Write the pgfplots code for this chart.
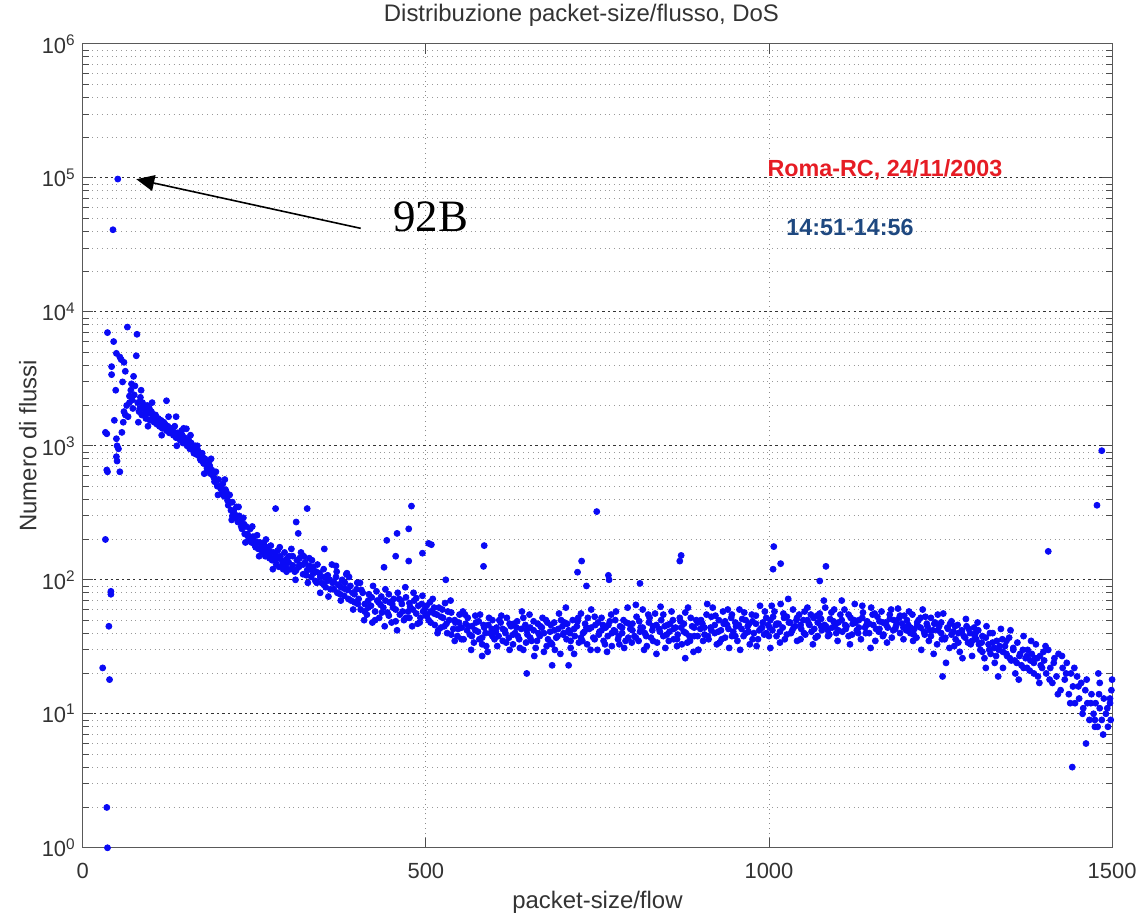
\documentclass[border=0pt]{standalone}
\usepackage{fontspec}
\setmainfont{Liberation Sans}
\newfontfamily\timesfont{Liberation Serif}
\usepackage{pgfplots}
\pgfplotsset{compat=1.18}
\usetikzlibrary{arrows.meta,calc}
\definecolor{ptblue}{RGB}{10,10,245}
\definecolor{annred}{RGB}{230,28,36}
\definecolor{annblue}{RGB}{30,72,128}
\pgfplotsset{pts/.style={only marks,mark=*,mark size=1.5pt,color=ptblue,mark options={fill=ptblue,draw=ptblue}}}

\begin{document}
\begin{tikzpicture}
\begin{axis}[
  scale only axis,
  width=516pt, height=403pt,
  xmin=0, xmax=1500, ymin=1, ymax=1e6,
  ymode=log,
  clip=false,
  axis line style={black!65},
  xtick={0,500,1000,1500},
  ytick={1,10,100,1000,10000,100000,1000000},
  yticklabels={10\textsuperscript{0},10\textsuperscript{1},10\textsuperscript{2},10\textsuperscript{3},10\textsuperscript{4},10\textsuperscript{5},10\textsuperscript{6}},
  minor ytick={2,3,4,5,6,7,8,9,20,30,40,50,60,70,80,90,200,300,400,500,600,700,800,900,2000,3000,4000,5000,6000,7000,8000,9000,20000,30000,40000,50000,60000,70000,80000,90000,200000,300000,400000,500000,600000,700000,800000,900000},
  /pgf/number format/assume math mode=true,
  /pgf/number format/1000 sep={},
  tick align=inside,
  tick pos=both,
  major tick length=5pt,
  minor tick length=3pt,
  every tick/.style={black!70},
  tick label style={font=\fontsize{11}{13}\selectfont,text=black!80},
  xticklabel style={yshift=-4pt},
  ymajorgrids, yminorgrids, xmajorgrids,
  major y grid style={dash pattern=on 1.2pt off 1.6pt,black!80,line width=0.5pt},
  minor y grid style={dotted,black!40},
  major x grid style={dotted,black!45},
  title={Distribuzione packet-size/flusso, DoS},
  title style={at={(axis description cs:0.5,1)},anchor=center,yshift=8.5pt,xshift=-8pt,font=\fontsize{12}{14}\selectfont,text=black!80},
  xlabel={packet-size/flow},
  ylabel={Numero di flussi},
  xlabel style={at={(axis description cs:0.5,0)},anchor=center,yshift=-27.5pt,font=\fontsize{12}{14}\selectfont,text=black!80},
  ylabel style={at={(axis description cs:0,0.5)},anchor=center,yshift=27.5pt,font=\fontsize{12}{14}\selectfont,text=black!80},
]
% small packet sizes, the peak and the DoS points
\addplot[pts] coordinates {
(36,1)(35,2)(29,22)(39,18)(38,45)(41,82)(41,78)(33,200)(36,640)(35,660)(35,1230)(33,1260)
(36,7000)(42,3900)(42,3400)(44,41000)(51,98000)(45,6000)(46,1550)(48,2600)(49,4900)(49,1130)
(49,830)(50,770)(50,1000)(52,950)(54,640)(54,4600)(56,4400)(57,1260)(58,3000)(59,1500)
(60,4200)(60,1800)(62,3600)(62,1700)(64,2000)(65,7700)(66,1650)(68,2100)(68,2350)(70,2600)
(71,2900)(72,2200)(73,1900)(74,3300)(75,2400)(76,2800)(78,4700)(79,6800)
};
% decay 80-300
\addplot[pts] coordinates {
(80,2100)(82,1800)(84,2300)(86,1700)(88,1950)(90,1850)(92,1600)(94,2000)(96,1750)(98,1550)
(100,1800)(102,1650)(104,1500)(106,1700)(108,1450)(110,1600)(112,1400)(114,1550)(116,1350)(118,1500)
(120,1450)(122,1300)(124,1400)(126,1250)(128,1350)(130,1300)(132,1200)(134,1400)(136,1150)(138,1250)
(140,1200)(142,1100)(144,1300)(146,1050)(148,1150)(150,1100)(152,1000)(154,1120)(156,950)(158,1050)
(160,950)(162,880)(164,1000)(166,860)(168,920)(170,850)(172,780)(174,880)(176,740)(178,800)
(180,720)(182,650)(184,760)(186,620)(188,660)(190,600)(192,540)(194,640)(196,500)(198,560)
(200,500)(202,440)(204,520)(206,420)(208,470)(210,420)(212,360)(214,430)(216,330)(218,380)
(220,330)(222,290)(224,350)(226,270)(228,300)(230,270)(232,240)(234,290)(236,220)(238,250)
(240,220)(242,195)(244,240)(246,190)(248,210)(250,195)(252,175)(254,215)(256,170)(258,190)
(260,175)(262,160)(264,190)(266,150)(268,175)(270,165)(272,145)(274,180)(276,140)(278,160)
(280,150)(282,130)(284,165)(286,125)(288,150)(290,140)(292,120)(294,160)(296,125)(298,145)(300,135)
(81,1500)(85,2600)(95,1400)(101,2100)(115,1200)(125,1650)(137,1000)(147,1350)(157,1200)(167,1000)
(177,620)(187,800)(197,430)(207,560)(217,280)(227,350)(237,190)(247,250)(257,150)(267,200)
(277,120)(287,175)(297,115)(122,2170)(136,1650)(151,1340)(112,1400)(160,950)(185,710)(209,455)
(218,300)(247,205)(282,150)(330,127)(378,98)
(83,1900)(87,2100)(91,1750)(97,1900)(103,1600)(107,1550)(113,1500)(117,1450)(121,1350)(127,1300)
(131,1350)(135,1250)(141,1150)(145,1200)(151,1050)(155,1050)(161,920)(165,950)(171,800)(175,820)
(181,680)(185,700)(191,580)(195,560)
(201,480)(205,470)(211,390)(215,380)(221,310)(225,300)(231,250)(235,260)(241,210)(245,200)
(251,180)(255,190)(261,170)(265,160)(271,150)(275,160)(281,140)(285,145)(291,130)(295,135)
};
% 300-500
\addplot[pts] coordinates {
(303,120)(306,150)(309,115)(312,140)(315,125)(318,160)(321,110)(324,135)(327,118)(330,145)
(333,105)(336,125)(339,98)(342,130)(345,112)(348,95)(351,120)(354,88)(357,108)(360,100)
(363,130)(366,85)(369,105)(372,92)(375,78)(378,100)(381,86)(384,110)(387,72)(390,90)
(393,80)(396,68)(399,85)
(304,170)(310,100)(316,130)(322,150)(328,95)(334,140)(340,115)(346,80)(352,105)(358,75)
(364,95)(370,115)(376,70)(382,95)(388,105)(394,60)(400,95)
(301,150)(306,128)(311,118)(316,145)(321,130)(326,108)(331,120)(336,112)(341,95)(346,105)
(351,92)(356,98)(361,85)(366,96)(371,80)(376,88)(381,76)(386,84)(391,70)(396,78)
(402,72)(405,60)(408,80)(411,66)(414,55)(417,78)(420,64)(423,90)(426,58)(429,70)
(432,52)(435,75)(438,62)(441,85)(444,57)(447,68)(450,48)(453,72)(456,60)(459,80)
(462,55)(465,66)(468,50)(471,74)(474,58)(477,63)(480,45)(483,70)(486,56)(489,64)
(492,52)(495,76)(498,60)
(404,95)(410,50)(416,70)(422,48)(428,82)(434,65)(440,45)(446,78)(452,62)(458,42)
(464,70)(470,88)(476,52)(482,80)(488,47)(494,66)(500,54)
(401,66)(406,84)(411,58)(416,62)(421,74)(426,50)(431,68)(436,57)(441,70)(446,54)
(451,66)(456,49)(461,72)(466,58)(471,52)(476,67)(481,60)(486,73)(491,48)(496,58)
};
% 500-800
\addplot[pts] coordinates {
(501,64)(504,50)(507,58)(510,72)(513,46)(516,55)(519,62)(522,44)(525,52)(528,67)
(531,40)(534,50)(537,57)(540,43)(543,48)(546,38)(549,55)(552,44)(555,36)(558,47)
(561,52)(564,39)(567,45)(570,34)(573,48)(576,41)(579,55)(582,37)(585,44)(588,32)
(591,46)(594,40)(597,50)(600,36)
(506,68)(512,56)(518,42)(524,60)(530,47)(536,70)(542,35)(548,48)(554,58)(560,42)
(566,30)(572,54)(578,36)(584,46)(590,29)(596,43)
(502,55)(507,48)(512,62)(517,40)(522,53)(527,45)(532,58)(537,39)(542,50)(547,43)
(552,36)(557,55)(562,45)(567,38)(572,42)(577,49)(582,33)(587,40)(592,52)(597,38)
(603,44)(606,38)(609,48)(612,35)(615,42)(618,52)(621,37)(624,45)(627,33)(630,40)
(633,49)(636,36)(639,43)(642,30)(645,46)(648,39)(651,55)(654,35)(657,42)(660,31)
(663,47)(666,38)(669,44)(672,29)(675,50)(678,36)(681,41)(684,33)(687,48)(690,37)
(693,43)(696,28)(699,45)
(604,32)(610,54)(616,40)(622,30)(628,47)(634,38)(640,58)(646,34)(652,44)(658,27)
(664,40)(670,52)(676,32)(682,46)(688,30)(694,56)(700,39)
(602,41)(607,50)(612,43)(617,34)(622,47)(627,39)(632,44)(637,31)(642,52)(647,42)
(652,37)(657,49)(662,35)(667,45)(672,40)(677,48)(682,34)(687,42)(692,38)(697,50)
(702,48)(705,36)(708,42)(711,31)(714,50)(717,38)(720,45)(723,34)(726,56)(729,40)
(732,47)(735,33)(738,43)(741,60)(744,37)(747,46)(750,30)(753,41)(756,52)(759,35)
(762,44)(765,38)(768,49)(771,32)(774,42)(777,58)(780,36)(783,45)(786,40)(789,31)
(792,48)(795,37)(798,43)
(704,62)(710,40)(716,28)(722,52)(728,35)(734,44)(740,30)(746,53)(752,39)(758,46)
(764,29)(770,55)(776,41)(782,33)(788,50)(794,62)(800,34)
(701,40)(706,47)(711,35)(716,43)(721,49)(726,37)(731,41)(736,52)(741,44)(746,36)
(751,48)(756,42)(761,33)(766,46)(771,40)(776,50)(781,38)(786,44)(791,35)(796,47)
};
% 800-1100
\addplot[pts] coordinates {
(801,47)(804,38)(807,53)(810,35)(813,44)(816,60)(819,40)(822,32)(825,48)(828,37)
(831,45)(834,56)(837,34)(840,43)(843,50)(846,38)(849,31)(852,46)(855,41)(858,58)
(861,36)(864,44)(867,39)(870,52)(873,33)(876,47)(879,40)(882,62)(885,35)(888,45)
(891,38)(894,50)(897,30)(900,43)
(806,65)(812,41)(818,30)(824,55)(830,42)(836,28)(842,63)(848,45)(854,35)(860,50)
(866,32)(872,44)(878,57)(884,38)(890,29)(896,48)
(801,42)(806,37)(811,49)(816,44)(821,38)(826,52)(831,35)(836,46)(841,41)(846,55)
(851,39)(856,47)(861,43)(866,36)(871,49)(876,41)(881,34)(886,52)(891,44)(896,38)
(903,47)(906,39)(909,55)(912,36)(915,44)(918,62)(921,40)(924,33)(927,50)(930,42)
(933,58)(936,37)(939,46)(942,31)(945,52)(948,41)(951,48)(954,35)(957,60)(960,43)
(963,38)(966,50)(969,45)(972,33)(975,55)(978,40)(981,47)(984,36)(987,64)(990,44)
(993,39)(996,52)(999,46)
(904,35)(910,66)(916,42)(922,54)(928,34)(934,47)(940,60)(946,38)(952,45)(958,30)
(964,57)(970,41)(976,49)(982,32)(988,43)(994,58)(1000,38)
(901,50)(906,44)(911,38)(916,53)(921,46)(926,41)(931,36)(936,49)(941,43)(946,55)
(951,38)(956,46)(961,51)(966,40)(971,47)(976,36)(981,54)(986,42)(991,48)(996,40)
(1002,50)(1005,42)(1008,58)(1011,38)(1014,47)(1017,66)(1020,44)(1023,36)(1026,53)(1029,48)
(1032,40)(1035,60)(1038,45)(1041,35)(1044,55)(1047,43)(1050,50)(1053,39)(1056,62)(1059,46)
(1062,41)(1065,52)(1068,37)(1071,48)(1074,56)(1077,42)(1080,70)(1083,45)(1086,38)(1089,51)
(1092,44)(1095,60)(1098,40)
(1004,64)(1010,46)(1016,34)(1022,52)(1028,72)(1034,42)(1040,50)(1046,36)(1052,58)(1058,47)
(1064,33)(1070,54)(1076,45)(1082,62)(1088,39)(1094,49)(1100,35)
(1001,44)(1006,53)(1011,47)(1016,41)(1021,56)(1026,39)(1031,48)(1036,44)(1041,52)(1046,46)
(1051,40)(1056,50)(1061,55)(1066,43)(1071,38)(1076,51)(1081,46)(1086,42)(1091,57)(1096,45)
};
% 1100-1500
\addplot[pts] coordinates {
(1101,48)(1104,55)(1107,41)(1110,60)(1113,45)(1116,38)(1119,52)(1122,47)(1125,66)(1128,42)
(1131,50)(1134,36)(1137,57)(1140,44)(1143,49)(1146,40)(1149,62)(1152,46)(1155,35)(1158,53)
(1161,43)(1164,58)(1167,39)(1170,48)(1173,44)(1176,55)(1179,37)(1182,50)(1185,45)(1188,61)
(1191,40)(1194,47)(1197,54)(1200,42)
(1106,70)(1112,43)(1118,33)(1124,50)(1130,40)(1136,64)(1142,46)(1148,31)(1154,56)(1160,41)
(1166,48)(1172,34)(1178,60)(1184,43)(1190,52)(1196,36)
(1101,42)(1106,50)(1111,46)(1116,55)(1121,39)(1126,48)(1131,44)(1136,52)(1141,40)(1146,47)
(1151,55)(1156,43)(1161,49)(1166,38)(1171,46)(1176,51)(1181,42)(1186,48)(1191,54)(1196,44)
(1203,46)(1206,40)(1209,55)(1212,43)(1215,37)(1218,50)(1221,44)(1224,60)(1227,39)(1230,47)
(1233,35)(1236,52)(1239,42)(1242,48)(1245,33)(1248,45)(1251,40)(1254,56)(1257,37)(1260,44)
(1263,31)(1266,49)(1269,41)(1272,36)(1275,46)(1278,29)(1281,42)(1284,38)(1287,51)(1290,34)
(1293,40)(1296,27)(1299,44)
(1204,58)(1210,35)(1216,48)(1222,30)(1228,53)(1234,42)(1240,28)(1246,55)(1252,36)(1258,24)
(1264,47)(1270,32)(1276,40)(1282,26)(1288,45)(1294,33)(1300,38)
(1201,50)(1206,44)(1211,39)(1216,46)(1221,52)(1226,41)(1231,45)(1236,38)(1241,47)(1246,42)
(1251,48)(1256,36)(1261,43)(1266,39)(1271,45)(1276,34)(1281,41)(1286,37)(1291,43)(1296,35)
(1302,36)(1305,42)(1308,30)(1311,38)(1314,26)(1317,45)(1320,33)(1323,28)(1326,40)(1329,24)
(1332,35)(1335,30)(1338,43)(1341,22)(1344,32)(1347,27)(1350,37)(1353,25)(1356,31)(1359,20)
(1362,34)(1365,27)(1368,23)(1371,38)(1374,26)(1377,30)(1380,21)(1383,28)(1386,24)(1389,33)
(1392,19)(1395,27)(1398,22)
(1304,48)(1310,34)(1316,22)(1322,40)(1328,31)(1334,19)(1340,36)(1346,28)(1352,42)(1358,25)
(1364,18)(1370,30)(1376,22)(1382,35)(1388,26)(1394,17)(1400,29)
(1301,40)(1306,33)(1311,29)(1316,37)(1321,30)(1326,34)(1331,27)(1336,32)(1341,29)(1346,35)
(1351,26)(1356,30)(1361,24)(1366,28)(1371,22)(1376,27)(1381,25)(1386,20)(1391,26)(1396,23)
(1401,25)(1404,20)(1407,30)(1410,22)(1413,17)(1416,26)(1419,19)(1422,28)(1425,15)(1428,22)
(1431,18)(1434,24)(1437,14)(1440,20)(1443,16)(1446,12)(1449,19)(1452,13)(1455,17)(1458,11)
(1461,15)(1464,12)(1467,9)(1470,14)(1473,10)(1476,12)(1479,8)(1482,11)(1485,9)(1488,13)
(1491,10)(1494,8)(1497,12)(1499,15)
(1403,32)(1409,18)(1415,24)(1421,14)(1427,27)(1433,20)(1439,12)(1445,22)(1451,16)(1457,10)
(1463,18)(1469,12)(1475,9)(1481,14)(1487,7)(1493,11)(1498,9)(1500,18)(1480,20)(1482,17)(1497,13)
};
% isolated outliers
\addplot[pts] coordinates {
(281,340)(327,340)(311,270)(314,222)(458,222)(456,150)(443,197)(504,187)(529,100)(439,124)
(352,170)(369,127)(385,112)(479,355)(475,240)(508,183)(495,158)(475,138)(585,180)(584,126)
(749,323)(727,138)(721,114)(766,108)(767,100)(872,152)(870,138)(812,94)(734,90)
(647,20)(708,23)(684,23)(582,27)(878,26)(897,30)(1002,31)
(1007,177)(1006,120)(1017,132)(1083,126)(1074,98)(1253,19)(1442,4)(1462,6)(1475,8)
(1407,163)(1478,360)(1485,920)
};
\node[font=\fontsize{22.5}{26}\selectfont\timesfont] at (axis cs:507,51000) {92B};
\draw[-{Triangle[length=9pt,width=8pt]},line width=0.8pt] (axis cs:405,42000) -- (axis cs:78,97700);
\node[font=\fontsize{11.7}{14}\selectfont\bfseries,text=annred] at (axis cs:1169,115400) {Roma-RC, 24/11/2003};
\node[font=\fontsize{11.7}{14}\selectfont\bfseries,text=annblue] at (axis cs:1118,42700) {14:51-14:56};
\end{axis}
\pgfresetboundingbox
\path ($(current axis.south west)+(-41.5pt,-33pt)$) rectangle ($(current axis.north east)+(13pt,22pt)$);
\end{tikzpicture}
\end{document}
